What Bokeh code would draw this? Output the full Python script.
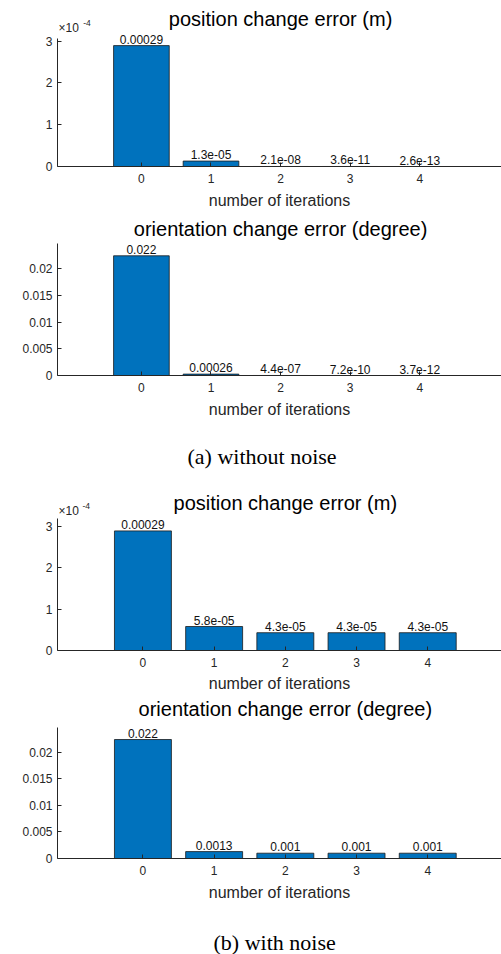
from bokeh.plotting import figure
from bokeh.layouts import column
from bokeh.models import (Range1d, FixedTicker, CustomJSTickFormatter, Label,
                          LabelSet, ColumnDataSource, Title)
from bokeh.core.properties import value
from bokeh.embed import file_html
from bokeh.resources import INLINE

# ---------------- data ----------------
iterations = [0, 1, 2, 3, 4]
tick_labels = ["0", "1", "2", "3", "4"]

pos_err_clean = [2.89e-4, 1.3e-5, 2.1e-8, 3.6e-11, 2.6e-13]
ori_err_clean = [0.0224, 2.6e-4, 4.4e-7, 7.2e-10, 3.7e-12]
pos_err_noise = [2.89e-4, 5.8e-5, 4.3e-5, 4.3e-5, 4.3e-5]
ori_err_noise = [0.0224, 1.3e-3, 1.0e-3, 1.0e-3, 1.0e-3]

pos_title = "position change error (m)"
ori_title = "orientation change error (degree)"
x_title = "number of iterations"
caption_a = "(a) without noise"
caption_b = "(b) with noise"

pos_ticks = [0, 1e-4, 2e-4, 3e-4]
ori_ticks = [0, 0.005, 0.01, 0.015, 0.02]

FONT = "Liberation Sans"
SERIF = "Liberation Serif"
AX = "#262626"
BAR = "#0072BD"

POS_FMT = "return tick == 0 ? '0' : String(Math.round(tick * 1e4));"
ORI_FMT = "return String(parseFloat(tick.toPrecision(6)));"


def panel(vals, title, yticks, fmt, ytop, xs, xe, left, btop, fh, bbot,
          title_gap, xlab_standoff, sci=None, caption=None):
    y_end = ytop * (fh + btop) / fh
    p = figure(width=501, height=btop + fh + bbot,
               x_range=Range1d(xs, xe), y_range=Range1d(0, y_end),
               output_backend="svg", toolbar_location=None, title=None,
               min_border_left=left, min_border_right=0,
               min_border_top=0, min_border_bottom=bbot)
    p.xgrid.visible = False
    p.ygrid.visible = False
    p.outline_line_color = None
    p.background_fill_color = "white"
    p.border_fill_color = "white"

    src = ColumnDataSource(dict(x=iterations, top=vals,
                                label=["%.2g" % v for v in vals]))
    p.vbar(x="x", top="top", bottom=0, width=0.8, source=src,
           fill_color=BAR, line_color="#1a1a1a", line_width=0.8)
    p.add_layout(LabelSet(x="x", y="top", text="label", source=src,
                          text_align="center", text_baseline="bottom",
                          y_offset=2, text_font=value(FONT),
                          text_font_size=value("12px"),
                          text_color="#111111"))

    p.xaxis.ticker = FixedTicker(ticks=iterations)
    p.xaxis.major_label_overrides = {i: t for i, t in zip(iterations, tick_labels)}
    p.yaxis.ticker = FixedTicker(ticks=yticks)
    p.yaxis.formatter = CustomJSTickFormatter(code=fmt)
    p.yaxis.bounds = (0, ytop)
    for ax in p.axis:
        ax.axis_line_color = AX
        ax.axis_line_width = 1
        ax.major_tick_line_color = AX
        ax.major_tick_in = 4
        ax.major_tick_out = 0
        ax.minor_tick_in = 0
        ax.minor_tick_out = 0
        ax.major_label_text_font = FONT
        ax.major_label_text_font_size = "12px"
        ax.major_label_text_color = AX
    p.xaxis.major_label_standoff = 7
    p.yaxis.major_label_standoff = 5
    p.xaxis.axis_label = x_title
    p.xaxis.axis_label_text_font = FONT
    p.xaxis.axis_label_text_font_size = "16px"
    p.xaxis.axis_label_text_font_style = "normal"
    p.xaxis.axis_label_text_color = AX
    p.xaxis.axis_label_standoff = xlab_standoff

    p.add_layout(Label(x=2, y=ytop, y_offset=title_gap, text=title,
                       text_align="center", text_baseline="middle",
                       text_font=FONT, text_font_size="20px",
                       text_color="black"))
    if sci is not None:
        gx, gy, ex, ey = sci
        p.add_layout(Label(x=xs, y=ytop, x_offset=gx, y_offset=gy,
                           text="\u00d710", text_align="left",
                           text_baseline="middle", text_font=FONT,
                           text_font_size="12px", text_color=AX))
        p.add_layout(Label(x=xs, y=ytop, x_offset=ex, y_offset=ey,
                           text="-4", text_align="left",
                           text_baseline="middle", text_font=FONT,
                           text_font_size="8.5px", text_color=AX))
    if caption is not None:
        text, off, gap = caption
        # invisible spacer between the axis label and the caption
        p.add_layout(Title(text=" ", standoff=gap, text_font=SERIF,
                           text_font_size="12px", text_color="white"),
                     "below")
        p.add_layout(Title(text=text, align="left", offset=off,
                           standoff=0, text_font=SERIF,
                           text_font_size="22px", text_font_style="normal",
                           text_color="black"), "below")
    return p


p1 = panel(pos_err_clean, pos_title, pos_ticks, POS_FMT, 3.06e-4,
           -1.206, 5.175, 46, 38, 128, 46, 20, 6,
           sci=(1, 10.8, 25.7, 15.3))
p2 = panel(ori_err_clean, ori_title, ori_ticks, ORI_FMT, 0.0247,
           -1.206, 5.175, 46, 31, 132, 100, 14.5, 6,
           caption=(caption_a, 130, 5))
p3 = panel(pos_err_noise, pos_title, pos_ticks, POS_FMT, 3.19e-4,
           -1.2, 5.036, 57, 43, 132, 46, 16, 5,
           sci=(1, 7.2, 25, 12.7))
p4 = panel(ori_err_noise, ori_title, ori_ticks, ORI_FMT, 0.0247,
           -1.2, 5.036, 57, 31, 132, 95, 18, 6,
           caption=(caption_b, 156, 8))

layout = column(p1, p2, p3, p4, spacing=0)
open("out.html", "w").write(file_html(layout, INLINE))
